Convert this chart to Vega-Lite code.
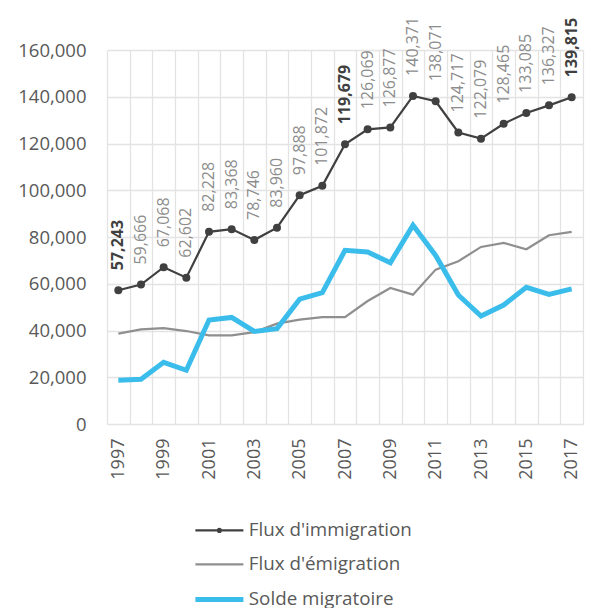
{
  "$schema": "https://vega.github.io/schema/vega-lite/v6.json",
  "width": 476,
  "height": 374,
  "autosize": {"type": "none"},
  "padding": {"left": 107, "top": 50, "right": 6, "bottom": 184},
  "config": {
    "view": {"stroke": null},
    "font": "Open Sans",
    "axis": {"labelFont": "Open Sans", "labelColor": "#595959", "gridColor": "#e3e3e3", "gridWidth": 1.3, "domain": false, "ticks": false}
  },
  "data": {"values": [
    {"year": 1997, "serie": "Flux d'immigration", "valeur": 57243},
    {"year": 1998, "serie": "Flux d'immigration", "valeur": 59666},
    {"year": 1999, "serie": "Flux d'immigration", "valeur": 67068},
    {"year": 2000, "serie": "Flux d'immigration", "valeur": 62602},
    {"year": 2001, "serie": "Flux d'immigration", "valeur": 82228},
    {"year": 2002, "serie": "Flux d'immigration", "valeur": 83368},
    {"year": 2003, "serie": "Flux d'immigration", "valeur": 78746},
    {"year": 2004, "serie": "Flux d'immigration", "valeur": 83960},
    {"year": 2005, "serie": "Flux d'immigration", "valeur": 97888},
    {"year": 2006, "serie": "Flux d'immigration", "valeur": 101872},
    {"year": 2007, "serie": "Flux d'immigration", "valeur": 119679},
    {"year": 2008, "serie": "Flux d'immigration", "valeur": 126069},
    {"year": 2009, "serie": "Flux d'immigration", "valeur": 126877},
    {"year": 2010, "serie": "Flux d'immigration", "valeur": 140371},
    {"year": 2011, "serie": "Flux d'immigration", "valeur": 138071},
    {"year": 2012, "serie": "Flux d'immigration", "valeur": 124717},
    {"year": 2013, "serie": "Flux d'immigration", "valeur": 122079},
    {"year": 2014, "serie": "Flux d'immigration", "valeur": 128465},
    {"year": 2015, "serie": "Flux d'immigration", "valeur": 133085},
    {"year": 2016, "serie": "Flux d'immigration", "valeur": 136327},
    {"year": 2017, "serie": "Flux d'immigration", "valeur": 139815},
    {"year": 1997, "serie": "Flux d'émigration", "valeur": 38640},
    {"year": 1998, "serie": "Flux d'émigration", "valeur": 40480},
    {"year": 1999, "serie": "Flux d'émigration", "valeur": 41050},
    {"year": 2000, "serie": "Flux d'émigration", "valeur": 39770},
    {"year": 2001, "serie": "Flux d'émigration", "valeur": 37900},
    {"year": 2002, "serie": "Flux d'émigration", "valeur": 37900},
    {"year": 2003, "serie": "Flux d'émigration", "valeur": 39330},
    {"year": 2004, "serie": "Flux d'émigration", "valeur": 42920},
    {"year": 2005, "serie": "Flux d'émigration", "valeur": 44630},
    {"year": 2006, "serie": "Flux d'émigration", "valeur": 45760},
    {"year": 2007, "serie": "Flux d'émigration", "valeur": 45760},
    {"year": 2008, "serie": "Flux d'émigration", "valeur": 52620},
    {"year": 2009, "serie": "Flux d'émigration", "valeur": 58180},
    {"year": 2010, "serie": "Flux d'émigration", "valeur": 55330},
    {"year": 2011, "serie": "Flux d'émigration", "valeur": 66040},
    {"year": 2012, "serie": "Flux d'émigration", "valeur": 69610},
    {"year": 2013, "serie": "Flux d'émigration", "valeur": 75750},
    {"year": 2014, "serie": "Flux d'émigration", "valeur": 77460},
    {"year": 2015, "serie": "Flux d'émigration", "valeur": 74750},
    {"year": 2016, "serie": "Flux d'émigration", "valeur": 80750},
    {"year": 2017, "serie": "Flux d'émigration", "valeur": 82170},
    {"year": 1997, "serie": "Solde migratoire", "valeur": 18700},
    {"year": 1998, "serie": "Solde migratoire", "valeur": 19100},
    {"year": 1999, "serie": "Solde migratoire", "valeur": 26400},
    {"year": 2000, "serie": "Solde migratoire", "valeur": 23000},
    {"year": 2001, "serie": "Solde migratoire", "valeur": 44500},
    {"year": 2002, "serie": "Solde migratoire", "valeur": 45600},
    {"year": 2003, "serie": "Solde migratoire", "valeur": 39600},
    {"year": 2004, "serie": "Solde migratoire", "valeur": 40800},
    {"year": 2005, "serie": "Solde migratoire", "valeur": 53400},
    {"year": 2006, "serie": "Solde migratoire", "valeur": 56150},
    {"year": 2007, "serie": "Solde migratoire", "valeur": 74300},
    {"year": 2008, "serie": "Solde migratoire", "valeur": 73600},
    {"year": 2009, "serie": "Solde migratoire", "valeur": 69000},
    {"year": 2010, "serie": "Solde migratoire", "valeur": 85000},
    {"year": 2011, "serie": "Solde migratoire", "valeur": 72100},
    {"year": 2012, "serie": "Solde migratoire", "valeur": 55200},
    {"year": 2013, "serie": "Solde migratoire", "valeur": 46200},
    {"year": 2014, "serie": "Solde migratoire", "valeur": 50900},
    {"year": 2015, "serie": "Solde migratoire", "valeur": 58450},
    {"year": 2016, "serie": "Solde migratoire", "valeur": 55450},
    {"year": 2017, "serie": "Solde migratoire", "valeur": 57800}
  ]},
  "encoding": {
    "x": {
      "field": "year", "type": "ordinal",
      "scale": {"type": "band", "paddingInner": 0, "paddingOuter": 0},
      "axis": {"title": null, "grid": true, "tickBand": "extent", "labelAngle": 270, "labelFontSize": 18, "labelPadding": 14,
        "labelExpr": "datum.value % 2 == 1 ? datum.label : ''"}
    },
    "y": {
      "field": "valeur", "type": "quantitative",
      "scale": {"domain": [0, 160000], "nice": false},
      "axis": {"title": null, "values": [0, 20000, 40000, 60000, 80000, 100000, 120000, 140000, 160000], "format": ",.0f", "labelFontSize": 18.5, "labelPadding": 21}
    }
  },
  "layer": [
    {
      "transform": [{"filter": {"field": "serie", "equal": "Flux d'immigration"}}],
      "mark": {"type": "line", "strokeWidth": 2.2},
      "encoding": {
        "color": {
          "field": "serie", "type": "nominal",
          "scale": {"domain": ["Flux d'immigration", "Flux d'émigration", "Solde migratoire"], "range": ["#404040", "#8f8f8f", "#3bbdec"]},
          "legend": {
            "title": null, "orient": "none", "legendX": 103, "legendY": 471, "direction": "vertical",
            "symbolType": "stroke", "symbolSize": 2304, "symbolStrokeWidth": 2.2,
            "labelFontSize": 18.8, "labelColor": "#595959", "labelFont": "Open Sans", "labelOffset": 20, "labelLimit": 400,
            "rowPadding": 14,
            "encode": {
              "symbols": {"update": {
                "shape": {"signal": "datum.value === \"Flux d'immigration\" ? 'M-1,0H1M0.06,0A0.06,0.06 0 1,1 -0.06,0A0.06,0.06 0 1,1 0.06,0' : 'stroke'"},
                "strokeWidth": {"signal": "datum.value === 'Solde migratoire' ? 5 : 2.2"}
              }}
            }
          }
        }
      }
    },
    {
      "transform": [{"filter": {"field": "serie", "equal": "Flux d'émigration"}}],
      "mark": {"type": "line", "strokeWidth": 2.2},
      "encoding": {"color": {"field": "serie", "type": "nominal"}}
    },
    {
      "transform": [{"filter": {"field": "serie", "equal": "Solde migratoire"}}],
      "mark": {"type": "line", "strokeWidth": 5},
      "encoding": {"color": {"field": "serie", "type": "nominal"}}
    },
    {
      "transform": [{"filter": {"field": "serie", "equal": "Flux d'immigration"}}],
      "mark": {"type": "point", "filled": true, "shape": "circle", "size": 64, "opacity": 1},
      "encoding": {"color": {"value": "#404040"}}
    },
    {
      "transform": [{"filter": {"and": [{"field": "serie", "equal": "Flux d'immigration"}, {"not": {"field": "year", "oneOf": [1997, 2007, 2017]}}]}}],
      "mark": {"type": "text", "angle": 270, "align": "left", "baseline": "middle", "dx": 20, "fontSize": 16, "font": "Open Sans"},
      "encoding": {"color": {"value": "#8c8c8c"}, "text": {"field": "valeur", "type": "quantitative", "format": ","}}
    },
    {
      "transform": [{"filter": {"and": [{"field": "serie", "equal": "Flux d'immigration"}, {"field": "year", "oneOf": [1997, 2007, 2017]}]}}],
      "mark": {"type": "text", "angle": 270, "align": "left", "baseline": "middle", "dx": 20, "fontSize": 16, "fontWeight": "bold", "font": "Open Sans"},
      "encoding": {"color": {"value": "#404040"}, "text": {"field": "valeur", "type": "quantitative", "format": ","}}
    }
  ]
}
